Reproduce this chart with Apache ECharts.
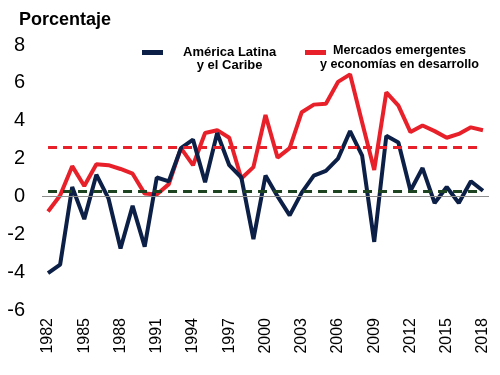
<!DOCTYPE html>
<html>
<head>
<meta charset="utf-8">
<script src="https://cdn.jsdelivr.net/npm/echarts@6/dist/echarts.min.js"></script>
<style>
  html, body { margin: 0; padding: 0; background: #fff; }
  #main { width: 500px; height: 375px; }
</style>
</head>
<body>
<div id="main"></div>
<script>
// datos
var years = [];
for (var y = 1982; y <= 2018; y++) years.push(String(y));

var america = [-4.05, -3.6, 0.5, -1.2, 1.15, -0.1, -2.75, -0.5, -2.65, 1.0,
    0.8, 2.55, 3.0, 0.75, 3.35, 1.65, 1.0, -2.25, 1.1, 0.0,
    -1.0, 0.2, 1.1, 1.35, 2.0, 3.45, 2.15, -2.4, 3.2, 2.85,
    0.3, 1.5, -0.35, 0.5, -0.35, 0.8, 0.3];
var emergentes = [-0.8, 0.05, 1.6, 0.55, 1.7, 1.65, 1.45, 1.2, 0.15, 0.1,
    0.65, 2.55, 1.65, 3.35, 3.5, 3.1, 0.95, 1.55, 4.3, 2.05,
    2.55, 4.45, 4.85, 4.9, 6.05, 6.45, 3.9, 1.4, 5.5, 4.8,
    3.4, 3.75, 3.45, 3.1, 3.3, 3.65, 3.5];
// promedios (líneas punteadas)
var promAmerica = 0.3;
var promEmergentes = 2.62;

var myChart = echarts.init(document.getElementById('main'));

var negrita = { fontSize: 13, fontWeight: 'bold', fill: '#000', textAlign: 'center',
    fontFamily: 'Liberation Sans, Arial, sans-serif' };

var option = {
    animation: false,
    textStyle: { fontFamily: 'Liberation Sans, Arial, sans-serif' },
    title: {
        text: 'Porcentaje',
        left: 14, top: 6,
        textStyle: { fontSize: 18, fontWeight: 'bold', color: '#000' }
    },
    // leyenda: solo los iconos, los textos van en graphic
    legend: [{
        data: ['América Latina'],
        left: 142, top: 50, padding: 0,
        icon: 'rect', itemWidth: 21, itemHeight: 5,
        formatter: function () { return ''; }
    }, {
        data: ['Mercados emergentes'],
        left: 305, top: 50, padding: 0,
        icon: 'rect', itemWidth: 21, itemHeight: 5,
        formatter: function () { return ''; }
    }],
    graphic: [
        { type: 'text', left: 183, top: 46, style: Object.assign({ text: 'América Latina\ny el Caribe', lineHeight: 13 }, negrita) },
        { type: 'text', left: 320, top: 44, style: Object.assign({ text: 'Mercados emergentes\ny economías en desarrollo', lineHeight: 14 }, negrita, { fontSize: 12.6 }) }
    ],
    grid: { left: 42, right: 11, top: 45, bottom: 65 },
    xAxis: {
        type: 'category',
        data: years,
        boundaryGap: true,
        axisLine: { show: false },
        axisTick: { show: false },
        axisLabel: { rotate: 90, interval: 2, fontSize: 16, color: '#000', margin: 8 }
    },
    yAxis: {
        type: 'value',
        min: -6, max: 8, interval: 2,
        axisLine: { show: false },
        axisTick: { show: false },
        splitLine: { show: false },
        axisLabel: { fontSize: 20, color: '#000', margin: 17 }
    },
    series: [{
        name: 'América Latina',
        type: 'line',
        data: america,
        symbol: 'none',
        z: 4,
        lineStyle: { color: '#0c1f46', width: 4 },
        itemStyle: { color: '#0c1f46' },
        markLine: {
            silent: true,
            symbol: 'none',
            label: { show: false },
            data: [
                [{ coord: [years[0], promAmerica] }, { coord: [years[years.length - 1], promAmerica] }]
            ],
            lineStyle: { color: '#1d4320', width: 3, type: [9, 6] }
        }
    }, {
        name: 'Mercados emergentes',
        type: 'line',
        data: emergentes,
        symbol: 'none',
        z: 3,
        lineStyle: { color: '#e8202a', width: 4 },
        itemStyle: { color: '#e8202a' },
        markLine: {
            silent: true,
            symbol: 'none',
            label: { show: false },
            data: [
                { yAxis: 0, lineStyle: { color: '#8c8c8c', width: 1, type: 'solid' } },
                [{ coord: [years[0], promEmergentes] }, { coord: [years[years.length - 1], promEmergentes] }]
            ],
            lineStyle: { color: '#e8202a', width: 3, type: [9, 6] }
        }
    }]
};

myChart.setOption(option);
</script>
</body>
</html>
